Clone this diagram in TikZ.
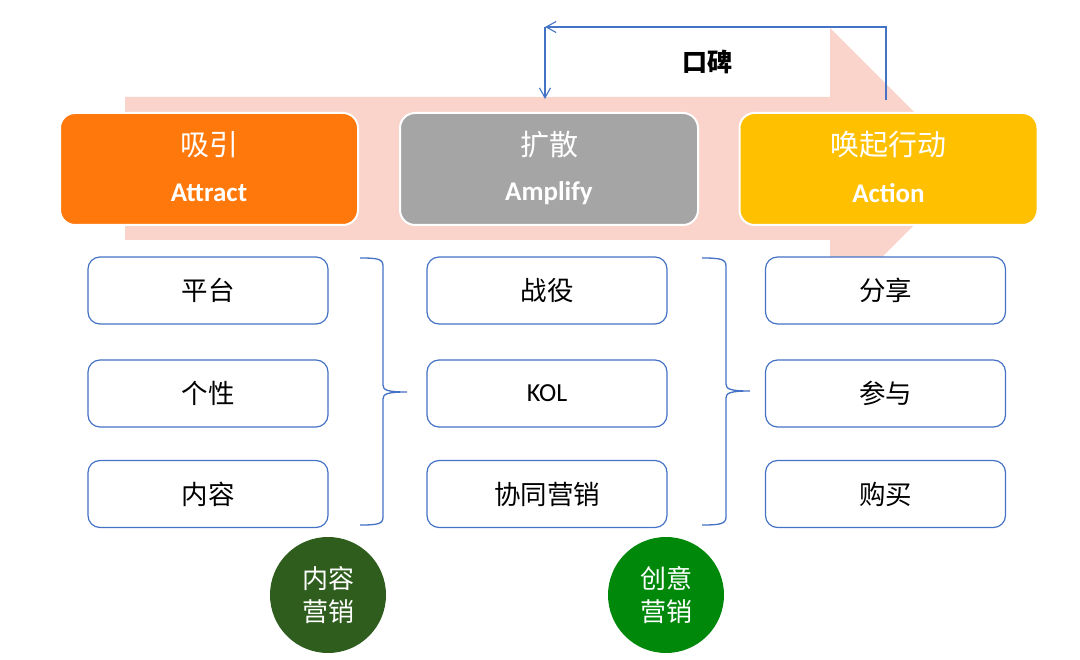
\documentclass[tikz,border=0pt]{standalone}
\usepackage{fontspec}
\setmainfont{Carlito}
\newfontfamily\cjk{Noto Sans CJK SC}
\usetikzlibrary{arrows.meta}
\definecolor{pinkbg}{HTML}{FAD4CB}
\definecolor{hdorange}{HTML}{FF780C}
\definecolor{hdgray}{HTML}{A5A5A5}
\definecolor{hdyellow}{HTML}{FFC000}
\definecolor{lineblue}{HTML}{4472C4}
\definecolor{dkgreen}{HTML}{2F5D1E}
\definecolor{brgreen}{HTML}{00880A}
\tikzset{
  hdr/.style={draw=white, line width=2pt, rounded corners=15pt, minimum width=298pt, minimum height=112pt, inner sep=0pt},
  htxtcn/.style={text=white, font=\cjk\fontsize{29}{30}\selectfont, inner sep=0pt},
  htxten/.style={text=white, font=\bfseries\fontsize{27}{30}\selectfont, inner sep=0pt},
  subbox/.style={draw=lineblue, line width=1.2pt, fill=white, rounded corners=12pt, minimum width=240pt, minimum height=67pt, inner sep=0pt, font=\cjk\fontsize{26.5}{28}\selectfont},
  bracestyle/.style={draw=lineblue, line width=1.3pt},
  fb/.style={draw=lineblue, line width=1.1pt},
  mcircle/.style={circle, minimum size=116pt, inner sep=0pt, text=white, align=center, font=\cjk\fontsize{26}{33}\selectfont}
}
\begin{document}
\begin{tikzpicture}[x=1pt,y=-1pt]
\useasboundingbox (0,0) rectangle (1080,660);
% background arrow
\fill[pinkbg] (125,97) -- (830,97) -- (830,28) -- (970.5,168.5) -- (830,309) -- (830,240) -- (125,240) -- cycle;
% header boxes
\node[hdr, fill=hdorange] (attract) at (209,169) {};
\node[hdr, fill=hdgray] (amplify) at (549,169) {};
\node[hdr, fill=hdyellow] (action) at (888.5,169) {};
\node[htxtcn] (attractcn) at (209,145) {吸引};
\node[htxten] (attracten) at (209,193) {Attract};
\node[htxtcn] (amplifycn) at (549,145) {扩散};
\node[htxten] (amplifyen) at (549,193) {Amplify};
\node[htxtcn] (actioncn) at (888.5,145) {唤起行动};
\node[htxten] (actionen) at (888.5,193) {Action};
% word of mouth arrow
\coordinate (fbstart) at (886,100);
\coordinate (fbtop) at (886,27);
\coordinate (fbcorner) at (545,27);
\coordinate (fbend) at (545,99);
\draw[fb, -{Straight Barb[length=10pt,width=11pt]}] (fbstart) -- (fbtop) -- (fbcorner);
\draw[fb, -{Straight Barb[length=10pt,width=11pt]}] (fbcorner) -- (fbend);
\node[font=\cjk\bfseries\fontsize{25}{26}\selectfont, inner sep=0pt] (koubei) at (707,62) {口碑};
% sub boxes
\node[subbox] (pingtai) at (208,290.5) {平台};
\node[subbox] (gexing) at (208,393.5) {个性};
\node[subbox] (neirong) at (208,494) {内容};
\node[subbox] (zhanyi) at (547,290.5) {战役};
\node[subbox, font=\fontsize{26}{28}\selectfont] (kol) at (547,393.5) {KOL};
\node[subbox] (xietong) at (547,494) {协同营销};
\node[subbox] (fenxiang) at (885.5,290.5) {分享};
\node[subbox] (canyu) at (885.5,393.5) {参与};
\node[subbox] (goumai) at (885.5,494) {购买};
% braces
\draw[bracestyle] (360,258) .. controls (378,258) and (383,259) .. (383,266) -- (383,385)
  .. controls (383,390) and (387,392) .. (407,392)
  .. controls (387,392) and (383,394) .. (383,399) -- (383,517)
  .. controls (383,524) and (378,525) .. (360,525);
\draw[bracestyle] (702,258) .. controls (720,258) and (726,259) .. (726,266) -- (726,384)
  .. controls (726,389) and (730,391) .. (750,391)
  .. controls (730,391) and (726,393) .. (726,398) -- (726,517)
  .. controls (726,524) and (720,525) .. (702,525);
% circles
\node[mcircle, fill=dkgreen] (nrmarketing) at (328,595) {内容\\营销};
\node[mcircle, fill=brgreen] (cymarketing) at (666,595) {创意\\营销};
\end{tikzpicture}
\end{document}
